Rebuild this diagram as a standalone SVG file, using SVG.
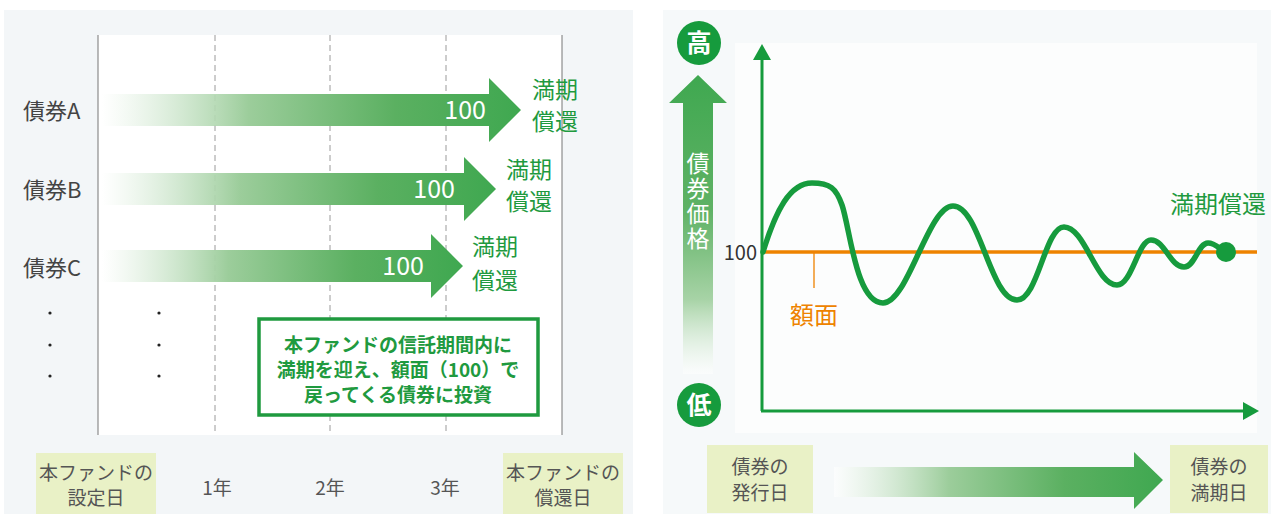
<svg xmlns="http://www.w3.org/2000/svg" width="1271" height="514" viewBox="0 0 1271 514">
<defs>
<linearGradient id="hgrad" x1="0" y1="0" x2="1" y2="0">
<stop offset="0" stop-color="#ffffff" stop-opacity="0.6"/>
<stop offset="0.35" stop-color="#9ccd9b"/>
<stop offset="0.7" stop-color="#5bb061"/>
<stop offset="1" stop-color="#3fa850"/>
</linearGradient>
<linearGradient id="vgrad" x1="0" y1="0" x2="0" y2="1">
<stop offset="0" stop-color="#3fa850"/>
<stop offset="0.45" stop-color="#5fb265"/>
<stop offset="0.75" stop-color="#a7d3a6"/>
<stop offset="1" stop-color="#ffffff" stop-opacity="0.5"/>
</linearGradient>
<style>
.t{font-family:"Noto Sans CJK JP","Noto Sans",sans-serif;}
.row{font-size:22px;fill:#444;}
.grn{font-size:23px;fill:#1f9a3f;}
.num{font-size:25px;fill:#ffffff;}
.ax{font-size:19px;fill:#555;}
.box{fill:#e9f1c6;}
.solid{stroke:#777;stroke-width:1;}
.dash{stroke:#9a9a9a;stroke-width:1;stroke-dasharray:6 4;}
.dot{fill:#222;}
</style>
</defs>

<g id="panels">
<rect x="4" y="10" width="629" height="504" fill="#f3f6f8"/>
<rect x="98" y="35" width="464" height="400" fill="#ffffff"/>
<rect x="663" y="10" width="608" height="504" fill="#f6f9fa"/>
<rect x="735" y="43" width="522" height="390" fill="#fcfdfd"/>
</g>

<g id="grid">
<line class="solid" x1="98" y1="35" x2="98" y2="435"/>
<line class="solid" x1="562" y1="35" x2="562" y2="435"/>
<line class="dash" x1="215" y1="35" x2="215" y2="435"/>
<line class="dash" x1="330" y1="35" x2="330" y2="435"/>
<line class="dash" x1="446" y1="35" x2="446" y2="435"/>
</g>

<g id="bondA">
<text class="t row" x="23" y="119">債券A</text>
<path d="M102,94 H489 V78 L521,110 L489,142 V126 H102 Z" fill="url(#hgrad)"/>
<text class="t num" x="486" y="119" text-anchor="end">100</text>
<text class="t grn" x="532" y="98">満期</text>
<text class="t grn" x="532" y="130">償還</text>
</g>
<g id="bondB">
<text class="t row" x="23" y="198">債券B</text>
<path d="M102,173 H464 V157 L496,189 L464,221 V205 H102 Z" fill="url(#hgrad)"/>
<text class="t num" x="455" y="198" text-anchor="end">100</text>
<text class="t grn" x="506" y="178">満期</text>
<text class="t grn" x="506" y="210">償還</text>
</g>
<g id="bondC">
<text class="t row" x="23" y="276">債券C</text>
<path d="M102,250 H431 V234 L463,266 L431,298 V282 H102 Z" fill="url(#hgrad)"/>
<text class="t num" x="424" y="275" text-anchor="end">100</text>
<text class="t grn" x="472" y="255">満期</text>
<text class="t grn" x="472" y="289">償還</text>
</g>
<g id="dots">
<circle class="dot" cx="50" cy="313" r="1.6"/>
<circle class="dot" cx="50" cy="345" r="1.6"/>
<circle class="dot" cx="50" cy="376" r="1.6"/>
<circle class="dot" cx="159" cy="313" r="1.6"/>
<circle class="dot" cx="159" cy="345" r="1.6"/>
<circle class="dot" cx="159" cy="376" r="1.6"/>
</g>

<g id="note">
<rect x="259" y="319" width="279" height="96" fill="#ffffff" stroke="#1f9a3f" stroke-width="3.5"/>
<text class="t" x="398" y="352" font-size="19" font-weight="bold" fill="#1f9a3f" text-anchor="middle">本ファンドの信託期間内に</text>
<text class="t" x="398" y="377" font-size="19" font-weight="bold" fill="#1f9a3f" text-anchor="middle">満期を迎え、額面（100）で</text>
<text class="t" x="398" y="402" font-size="19" font-weight="bold" fill="#1f9a3f" text-anchor="middle">戻ってくる債券に投資</text>
</g>

<g id="xlabels-left">
<rect class="box" x="36" y="453" width="120" height="61"/>
<text class="t ax" x="96" y="480" text-anchor="middle" font-size="17">本ファンドの</text>
<text class="t ax" x="96" y="505" text-anchor="middle" font-size="17">設定日</text>
<text class="t ax" x="217" y="495" text-anchor="middle">1年</text>
<text class="t ax" x="330" y="495" text-anchor="middle">2年</text>
<text class="t ax" x="445" y="495" text-anchor="middle">3年</text>
<rect class="box" x="503" y="453" width="120" height="61"/>
<text class="t ax" x="563" y="480" text-anchor="middle" font-size="17">本ファンドの</text>
<text class="t ax" x="563" y="505" text-anchor="middle" font-size="17">償還日</text>
</g>

<g id="priceAxis">
<circle cx="699" cy="43" r="22" fill="#169b3d"/>
<text class="t" x="699" y="52" font-size="25" font-weight="bold" fill="#ffffff" text-anchor="middle">高</text>
<path d="M683,103 H669 L698,75 L727,103 H713 V374 H683 Z" fill="url(#vgrad)"/>
<text class="t" x="698" y="152" font-size="23" fill="#ffffff" letter-spacing="2" style="writing-mode:vertical-rl">債券価格</text>
<circle cx="699" cy="405" r="22" fill="#169b3d"/>
<text class="t" x="699" y="414" font-size="25" font-weight="bold" fill="#ffffff" text-anchor="middle">低</text>
</g>

<g id="chart">
<line x1="762" y1="411" x2="762" y2="58" stroke="#169b3d" stroke-width="3"/>
<path d="M753,60 L762,44 L771,60 Z" fill="#169b3d"/>
<line x1="761" y1="411" x2="1244" y2="411" stroke="#169b3d" stroke-width="3"/>
<path d="M1243,402 L1259,411 L1243,420 Z" fill="#169b3d"/>
<line x1="763" y1="252" x2="1257" y2="252" stroke="#ee8300" stroke-width="3.5"/>
<line x1="814" y1="252" x2="814" y2="288" stroke="#ee8300" stroke-width="1.3"/>
<text class="t" x="790" y="324" font-size="24" fill="#ee8300">額面</text>
<text class="t" x="757" y="260" font-size="20" fill="#333" text-anchor="end">100</text>
<path d="M763,252 C776,210 790,183 812,183 C830,183 836,188 842,205 C850,228 856,303 883,303 C908,303 928,206 953,206 C980,206 990,300 1017,300 C1038,300 1045,227 1064,227 C1085,227 1096,285 1117,285 C1132,285 1138,240 1151,240 C1165,240 1170,267 1184,267 C1195,267 1198,243 1208,243 C1216,243 1220,250 1226,252" fill="none" stroke="#169b3d" stroke-width="5.5" stroke-linecap="round" stroke-linejoin="round"/>
<circle cx="1226" cy="252" r="10" fill="#169b3d"/>
<text class="t" x="1170" y="213" font-size="24" fill="#1f9a3f">満期償還</text>
</g>

<g id="xlabels-right">
<rect class="box" x="707" y="445" width="106" height="68"/>
<text class="t ax" x="760" y="474" text-anchor="middle" font-size="20">債券の</text>
<text class="t ax" x="760" y="500" text-anchor="middle" font-size="20">発行日</text>
<path d="M834,467 H1134 V452 L1163,480 L1134,509 V497 H834 Z" fill="url(#hgrad)"/>
<rect class="box" x="1170" y="445" width="98" height="68"/>
<text class="t ax" x="1219" y="474" text-anchor="middle" font-size="20">債券の</text>
<text class="t ax" x="1219" y="500" text-anchor="middle" font-size="20">満期日</text>
</g>
</svg>
